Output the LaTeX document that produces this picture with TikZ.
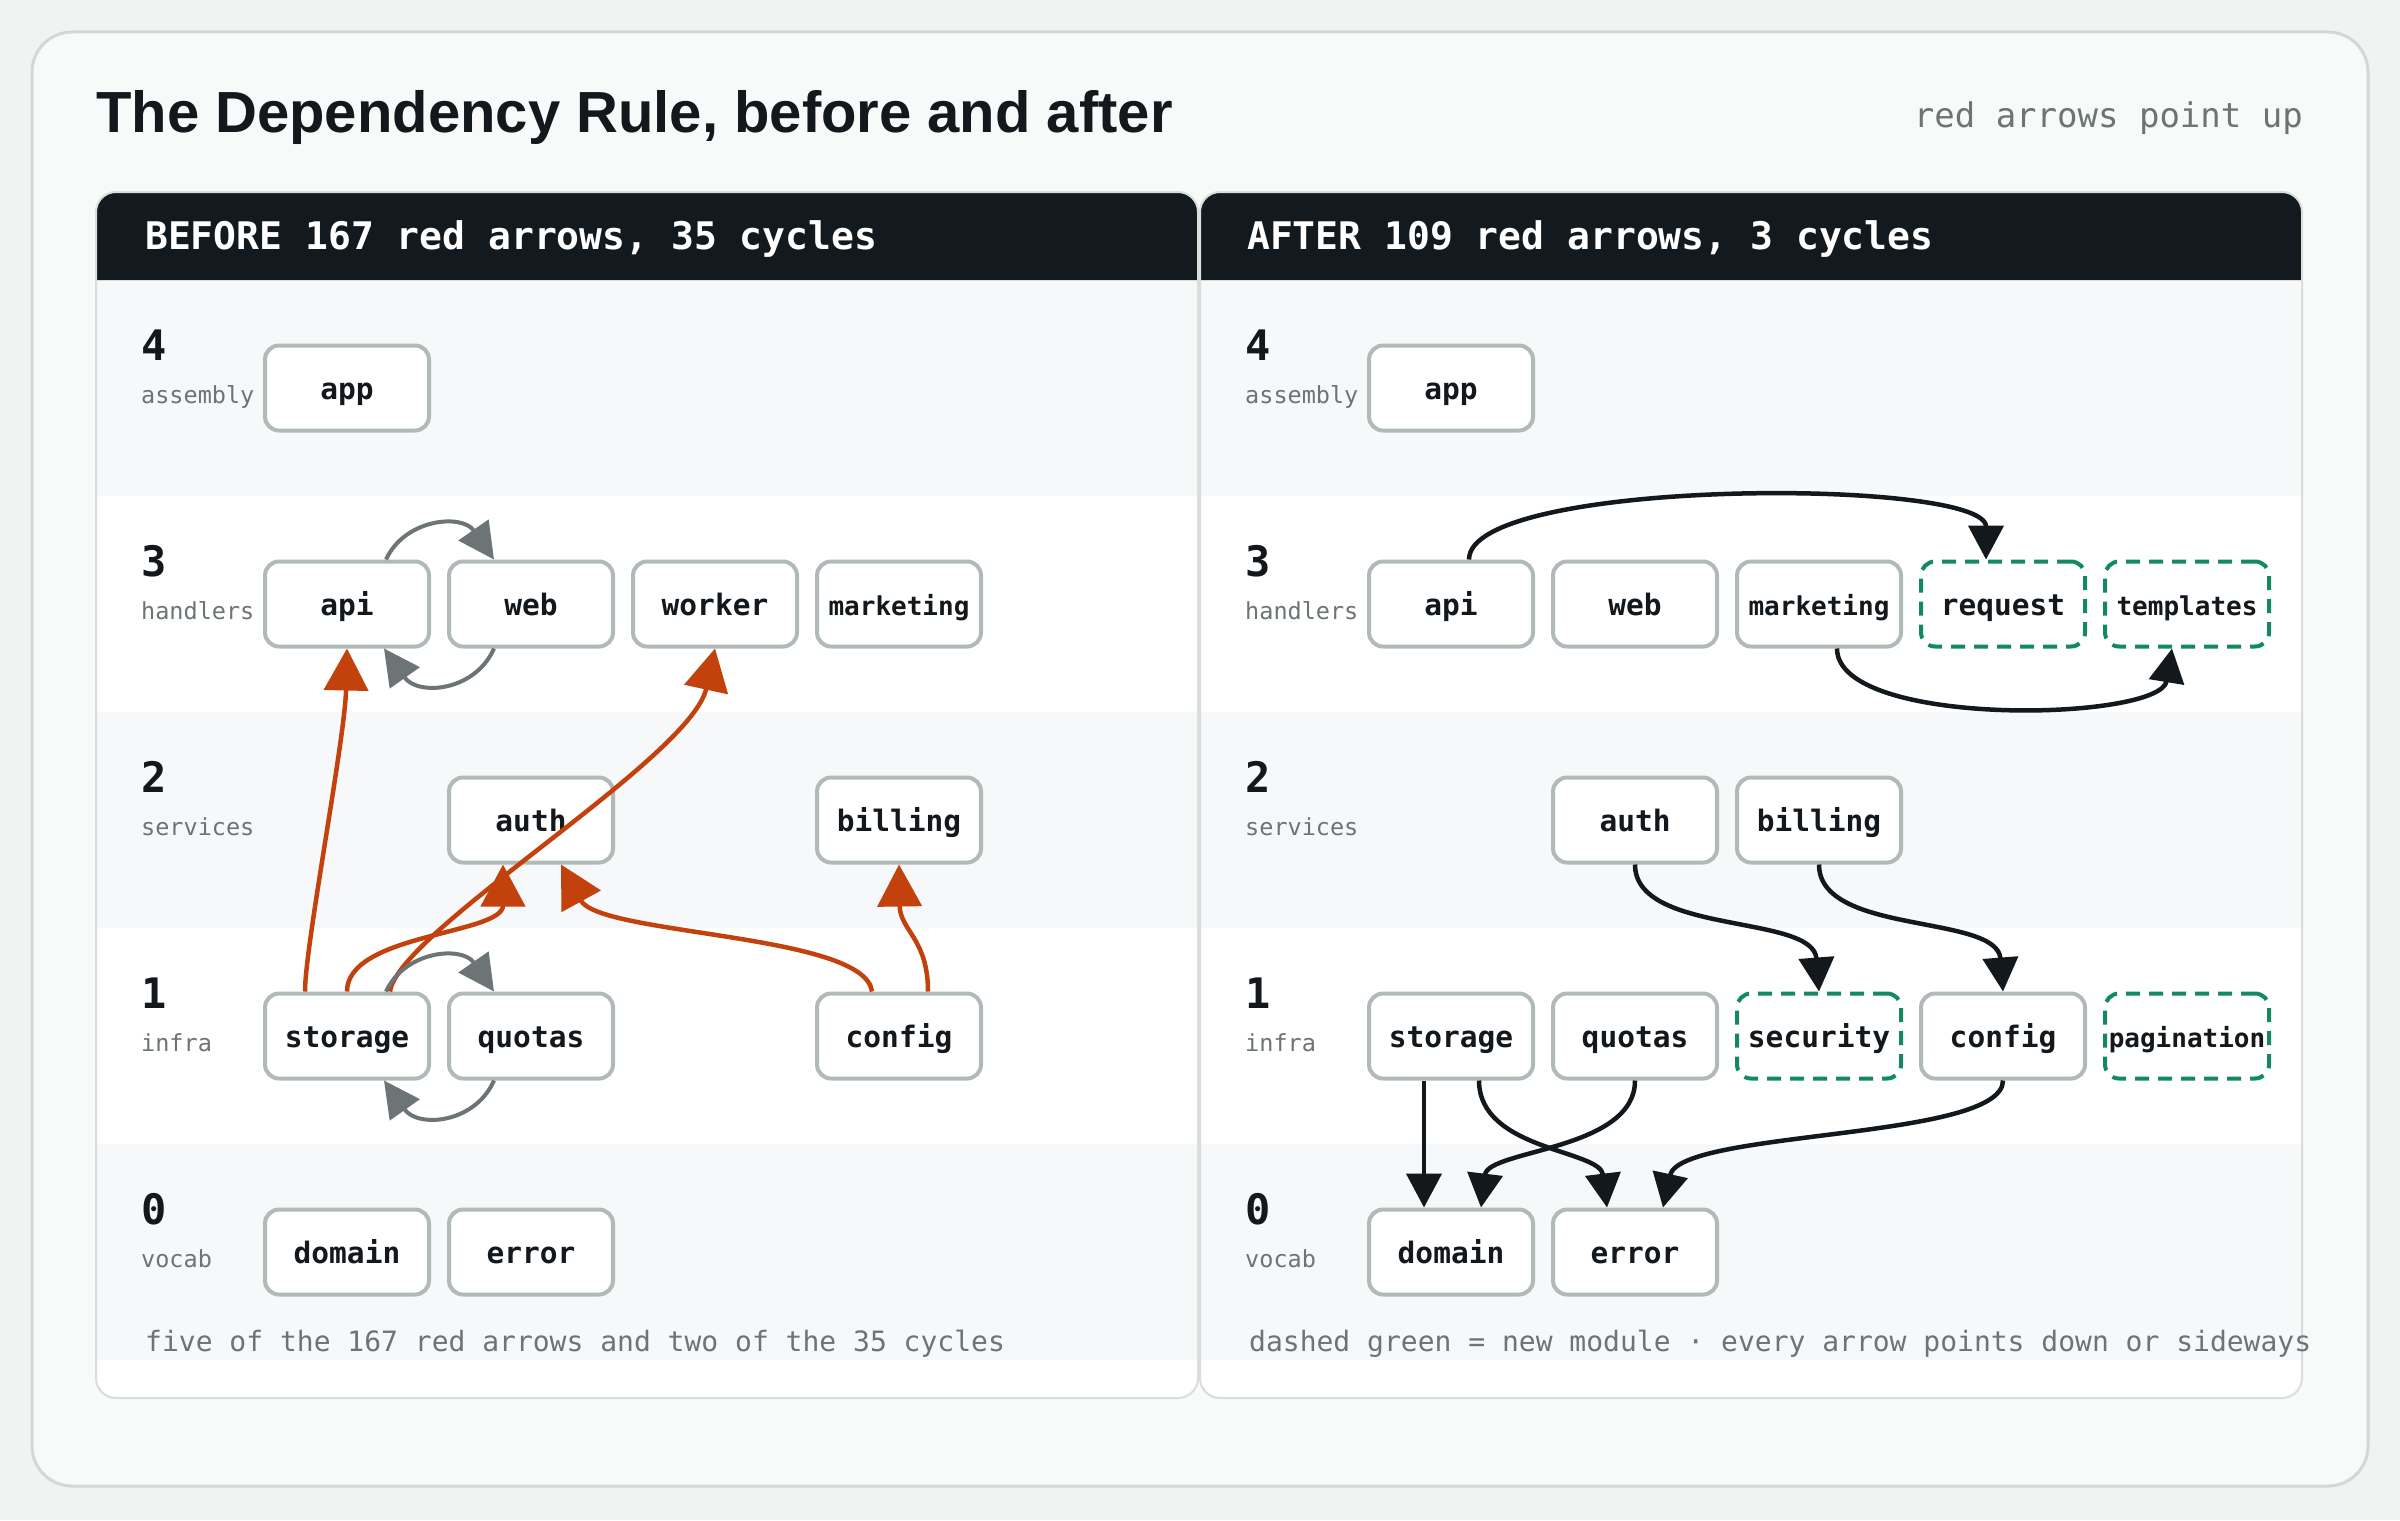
\documentclass[tikz,border=0pt]{standalone}
\usepackage{fontspec}
\setmonofont{DejaVu Sans Mono}
\newfontfamily\titlefont{Liberation Sans}
\usetikzlibrary{arrows.meta}
\definecolor{outerbg}{HTML}{F1F3F3}
\definecolor{cardbg}{HTML}{F8F9F9}
\definecolor{cardline}{HTML}{D2D8D7}
\definecolor{panelline}{HTML}{D9DEDD}
\definecolor{headbg}{HTML}{131A1F}
\definecolor{bandbg}{HTML}{F6F8F9}
\definecolor{boxline}{HTML}{B2BAB8}
\definecolor{ink}{HTML}{12181C}
\definecolor{mute}{HTML}{6C7474}
\definecolor{redarrow}{HTML}{C2410C}
\definecolor{grayarrow}{HTML}{6C7475}
\definecolor{newgreen}{HTML}{138A5C}
\tikzset{
  box/.style={draw=boxline, line width=4pt, fill=white, rounded corners=14pt,
    minimum width=164pt, minimum height=85pt, inner sep=0pt,
    text height=23pt, text depth=0pt, text=ink,
    font=\ttfamily\bfseries\fontsize{29.5}{34}\selectfont},
  small/.style={font=\ttfamily\bfseries\fontsize{26}{30}\selectfont},
  newbox/.style={box, draw=newgreen, dash pattern=on 14pt off 9pt},
  digit/.style={anchor=base west, inner sep=0pt, text=ink,
    font=\ttfamily\bfseries\fontsize{42}{48}\selectfont},
  rowlab/.style={anchor=base west, inner sep=0pt, text=mute,
    font=\ttfamily\fontsize{23.5}{28}\selectfont},
  foot/.style={anchor=base west, inner sep=0pt, text=mute,
    font=\ttfamily\fontsize{28}{32}\selectfont},
  headtxt/.style={anchor=base west, inner sep=0pt, text=white,
    font=\ttfamily\bfseries\fontsize{38}{44}\selectfont},
  redge/.style={draw=redarrow, line width=4.5pt, -{Triangle[length=42pt,width=44pt]}},
  gedge/.style={draw=grayarrow, line width=4pt, -{Triangle[length=36pt,width=36pt]}},
  kedge/.style={draw=ink, line width=4.5pt, -{Triangle[length=34pt,width=35pt]}},
}
\begin{document}
\begin{tikzpicture}[x=1pt,y=-1pt]
\useasboundingbox (0,0) rectangle (2400,1520);
\fill[outerbg] (0,0) rectangle (2400,1520);
\draw[cardline, fill=cardbg, line width=3pt, rounded corners=40pt] (32,32) rectangle (2368,1486);

\node[anchor=base west, inner sep=0pt, text=ink, font=\titlefont\bfseries\fontsize{58}{66}\selectfont] (title) at (96,132) {The Dependency Rule, before and after};
\node[anchor=base east, inner sep=0pt, text=mute, font=\ttfamily\fontsize{34}{40}\selectfont] (subtitle) at (2303,127) {red arrows point up};

\foreach \px in {96,1200} {
  \fill[white, rounded corners=20pt] (\px,192) rectangle ++(1102,1206);
  \fill[bandbg] (\px,280) rectangle ++(1102,216);
  \fill[bandbg] (\px,712) rectangle ++(1102,216);
  \fill[bandbg] (\px,1144) rectangle ++(1102,216);
  \fill[headbg] (\px,280) [rounded corners=20pt] -- (\px,192) -- (\px+1102,192) [sharp corners] -- (\px+1102,280) -- cycle;
  \draw[panelline, line width=2pt, rounded corners=20pt] (\px,192) rectangle ++(1102,1206);
  \foreach \d/\nm/\tp in {4/assembly/280, 3/handlers/496, 2/services/712, 1/infra/928, 0/vocab/1144} {
    \node[digit] (dg\d-\px) at (\px+45,\tp+80) {\d};
    \node[rowlab] (rl\d-\px) at (\px+45,\tp+123) {\nm};
  }
}
\node[headtxt] (lhead) at (145,249) {BEFORE 167 red arrows, 35 cycles};
\node[headtxt] (rhead) at (1247,249) {AFTER 109 red arrows, 3 cycles};
\node[foot] (lfoot) at (145,1351) {five of the 167 red arrows and two of the 35 cycles};
\node[foot] (rfoot) at (1249,1351) {dashed green = new module · every arrow points down or sideways};

% ---------- left panel nodes
\node[box] (lapp) at (347,388) {app};
\node[box] (lapi) at (347,604) {api};
\node[box] (lweb) at (531,604) {web};
\node[box] (lworker) at (715,604) {worker};
\node[box, small] (lmarketing) at (899,604) {marketing};
\node[box] (lauth) at (531,820) {auth};
\node[box] (lbilling) at (899,820) {billing};
\node[box] (lstorage) at (347,1036) {storage};
\node[box] (lquotas) at (531,1036) {quotas};
\node[box] (lconfig) at (899,1036) {config};
\node[box] (ldomain) at (347,1252) {domain};
\node[box] (lerror) at (531,1252) {error};

% ---------- right panel nodes
\node[box] (rapp) at (1451,388) {app};
\node[box] (rapi) at (1451,604) {api};
\node[box] (rweb) at (1635,604) {web};
\node[box, small] (rmarketing) at (1819,604) {marketing};
\node[newbox] (rrequest) at (2003,604) {request};
\node[newbox, small] (rtemplates) at (2187,604) {templates};
\node[box] (rauth) at (1635,820) {auth};
\node[box] (rbilling) at (1819,820) {billing};
\node[box] (rstorage) at (1451,1036) {storage};
\node[box] (rquotas) at (1635,1036) {quotas};
\node[newbox] (rsecurity) at (1819,1036) {security};
\node[box] (rconfig) at (2003,1036) {config};
\node[newbox, small] (rpagination) at (2187,1036) {pagination};
\node[box] (rdomain) at (1451,1252) {domain};
\node[box] (rerror) at (1635,1252) {error};

% ---------- left edges (red)
\draw[redge] ([xshift=-42pt]lstorage.north) .. controls +(0,-45) and +(-2,90) .. (lapi.south);
\draw[redge] (lstorage.north) .. controls +(0,-58) and +(0,70) .. ([xshift=-28pt]lauth.south);
\draw[redge] ([xshift=43pt]lstorage.north) .. controls +(8,-60) and +(-24,110) .. (lworker.south);
\draw[redge] ([xshift=-27pt]lconfig.north) .. controls +(-7,-58) and +(39,71) .. ([xshift=30pt]lauth.south);
\draw[redge] ([xshift=29pt]lconfig.north) .. controls +(0,-53) and +(1,66) .. (lbilling.south);
% gray cycles
\draw[gedge] ([xshift=39pt]lapi.north) .. controls +(19,-41) and +(-32,-46) .. ([xshift=-37pt]lweb.north);
\draw[gedge] ([xshift=-37pt]lweb.south) .. controls +(-19,43) and +(34,48) .. ([xshift=37pt]lapi.south);
\draw[gedge] ([xshift=39pt]lstorage.north) .. controls +(19,-41) and +(-32,-46) .. ([xshift=-37pt]lquotas.north);
\draw[gedge] ([xshift=-37pt]lquotas.south) .. controls +(-19,43) and +(34,48) .. ([xshift=37pt]lstorage.south);

% ---------- right edges (black)
\draw[kedge] ([xshift=18pt]rapi.north) .. controls +(0,-82) and +(0,-82) .. ([xshift=-17pt]rrequest.north);
\draw[kedge] ([xshift=18pt]rmarketing.south) .. controls +(0,80) and +(-12,73) .. ([xshift=-15pt]rtemplates.south);
\draw[kedge] (rauth.south) .. controls +(0,71) and +(-6,-78) .. (rsecurity.north);
\draw[kedge] (rbilling.south) .. controls +(0,71) and +(-6,-78) .. (rconfig.north);
\draw[kedge] ([xshift=-27pt]rstorage.south) -- ([xshift=-27pt]rdomain.north);
\draw[kedge] ([xshift=28pt]rstorage.south) .. controls +(0,70) and +(-7,-58) .. ([xshift=-28pt]rerror.north);
\draw[kedge] (rquotas.south) .. controls +(0,70) and +(7,-58) .. ([xshift=30pt]rdomain.north);
\draw[kedge] (rconfig.south) .. controls +(0,60) and +(17,-78) .. ([xshift=28pt]rerror.north);
\end{tikzpicture}
\end{document}
